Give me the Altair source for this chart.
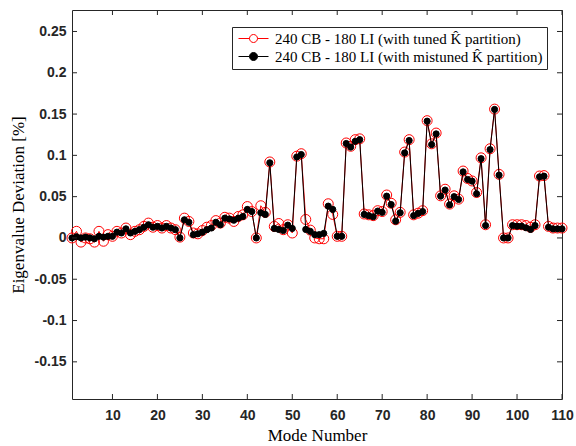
import altair as alt
import pandas as pd

# ---------------- data ----------------
modes = list(range(1, 111))

tuned = [
    0.0, 0.008, -0.005, 0.0, -0.001, -0.005, 0.008, -0.004, 0.004, 0.002,
    0.008, 0.006, 0.012, 0.004, 0.008, 0.010, 0.014, 0.018, 0.013, 0.015,
    0.012, 0.015, 0.012, 0.010, 0.001, 0.024, 0.020, 0.006, 0.005, 0.009,
    0.013, 0.015, 0.021, 0.018, 0.025, 0.024, 0.020, 0.026, 0.028, 0.038,
    0.032, 0.0, 0.039, 0.031, 0.092, 0.014, 0.0175, 0.010, 0.016, 0.006,
    0.099, 0.102, 0.0224, 0.0095, 0.0, -0.001, -0.001, 0.0414, 0.0285, 0.002,
    0.002, 0.115, 0.111, 0.119, 0.120, 0.029, 0.028, 0.027, 0.033, 0.032,
    0.052, 0.042, 0.022, 0.031, 0.104, 0.119, 0.028, 0.030, 0.033, 0.142,
    0.114, 0.127, 0.051, 0.059, 0.041, 0.051, 0.047, 0.081, 0.072, 0.069,
    0.055, 0.097, 0.016, 0.108, 0.156, 0.077, 0.0, 0.0, 0.016, 0.016,
    0.016, 0.015, 0.013, 0.016, 0.075, 0.0755, 0.014, 0.012, 0.012, 0.012,
]

mistuned = [
    0.0, 0.0015, 0.0, 0.001, 0.0, -0.001, 0.002, 0.001, 0.002, 0.002,
    0.007, 0.006, 0.011, 0.006, 0.008, 0.010, 0.013, 0.016, 0.013, 0.014,
    0.012, 0.014, 0.012, 0.010, 0.0, 0.022, 0.019, 0.004, 0.005, 0.007,
    0.010, 0.012, 0.019, 0.016, 0.024, 0.023, 0.0215, 0.024, 0.026, 0.0345,
    0.032, 0.0, 0.0305, 0.0285, 0.091, 0.0115, 0.0103, 0.009, 0.0155, 0.0115,
    0.098, 0.101, 0.0103, 0.008, 0.004, 0.004, 0.0055, 0.0385, 0.0345, 0.002,
    0.002, 0.1144, 0.110, 0.117, 0.119, 0.0285, 0.027, 0.0257, 0.0325, 0.031,
    0.0506, 0.0405, 0.0203, 0.0305, 0.103, 0.118, 0.027, 0.0297, 0.032, 0.1414,
    0.113, 0.126, 0.0506, 0.058, 0.040, 0.050, 0.0466, 0.080, 0.0708, 0.0688,
    0.0535, 0.096, 0.015, 0.107, 0.1556, 0.076, 0.0, 0.0, 0.015, 0.0143,
    0.0143, 0.0123, 0.0103, 0.015, 0.074, 0.0748, 0.013, 0.011, 0.011, 0.011,
]

series_names = [
    "240 CB - 180 LI (with tuned K\u0302 partition)",
    "240 CB - 180 LI (with mistuned K\u0302 partition)",
]
x_ticks = [10, 20, 30, 40, 50, 60, 70, 80, 90, 100, 110]
y_ticks = [-0.15, -0.1, -0.05, 0, 0.05, 0.1, 0.15, 0.2, 0.25]

df = pd.DataFrame({
    "mode": modes + modes,
    "value": tuned + mistuned,
    "series": [series_names[0]] * len(modes) + [series_names[1]] * len(modes),
})
xt = pd.DataFrame({"t": x_ticks})
yt = pd.DataFrame({"t": y_ticks})

# ---------------- layout ----------------
W, H = 490, 389
AX = "#262626"
xs = alt.Scale(domain=[1, 110], nice=False, zero=False)
ys = alt.Scale(domain=[-0.195, 0.276], nice=False, zero=False)

stroke_scale = alt.Scale(domain=series_names, range=["#ff0000", "#000000"])
fill_scale = alt.Scale(domain=series_names, range=["transparent", "#000000"])

SYMBOL = "M-3,0L-0.8,0M0.8,0L3,0M0.8,0A0.8,0.8,0,1,1,-0.8,0A0.8,0.8,0,1,1,0.8,0Z"
legend = alt.Legend(
    title=None, orient="none", legendX=160, legendY=17,
    symbolType=SYMBOL, symbolSize=100, symbolStrokeWidth=1,
    symbolOffset=10, labelOffset=14,
    labelFont="Liberation Serif", labelFontSize=15, labelColor="#000000",
    labelLimit=500, padding=4, rowPadding=2,
    strokeColor=AX, fillColor="white", cornerRadius=0,
)

x_axis = alt.Axis(
    values=x_ticks, title="Mode Number", grid=False, ticks=False, tickSize=0,
    domain=False, labelFlush=False,
    labelFont="Liberation Sans", labelFontSize=14, labelFontWeight="bold",
    labelColor=AX, labelPadding=9,
    titleFont="Liberation Serif", titleFontSize=17, titleFontWeight="normal",
    titleColor="#000000", titlePadding=5,
)
y_axis = alt.Axis(
    values=y_ticks, title="Eigenvalue Deviation [%]", grid=False, ticks=False,
    tickSize=0, domain=False, labelFlush=False,
    labelExpr="'' + datum.value",
    labelFont="Liberation Sans", labelFontSize=14, labelFontWeight="bold",
    labelColor=AX, labelPadding=6,
    titleFont="Liberation Serif", titleFontSize=17, titleFontWeight="normal",
    titleColor="#000000", titlePadding=7,
)

base = alt.Chart(df)
X = alt.X("mode:Q", scale=xs, axis=x_axis)
Y = alt.Y("value:Q", scale=ys, axis=y_axis)

red_line = base.transform_filter(alt.datum.series == series_names[0]).mark_line(
    strokeWidth=1
).encode(x=X, y=Y, stroke=alt.Stroke("series:N", scale=stroke_scale, legend=legend))

red_pts = base.transform_filter(alt.datum.series == series_names[0]).mark_point(
    shape="circle", size=100, strokeWidth=1, opacity=1
).encode(
    x=X, y=Y,
    stroke=alt.Stroke("series:N", scale=stroke_scale, legend=legend),
    fill=alt.Fill("series:N", scale=fill_scale, legend=legend),
)

black_line = base.transform_filter(alt.datum.series == series_names[1]).mark_line(
    strokeWidth=1
).encode(x=X, y=Y, stroke=alt.Stroke("series:N", scale=stroke_scale, legend=legend))

black_pts = base.transform_filter(alt.datum.series == series_names[1]).mark_point(
    shape="circle", size=38, strokeWidth=1, opacity=1
).encode(
    x=X, y=Y,
    stroke=alt.Stroke("series:N", scale=stroke_scale, legend=legend),
    fill=alt.Fill("series:N", scale=fill_scale, legend=legend),
)

tick_style = dict(color=AX, strokeWidth=1)
TX = alt.X("t:Q", scale=xs, axis=x_axis)
TY = alt.Y("t:Q", scale=ys, axis=y_axis)
tick_bottom = alt.Chart(xt).mark_rule(**tick_style).encode(
    x=TX, y=alt.value(H), y2=alt.value(H - 5))
tick_top = alt.Chart(xt).mark_rule(**tick_style).encode(
    x=TX, y=alt.value(0), y2=alt.value(5))
tick_left = alt.Chart(yt).mark_rule(**tick_style).encode(
    y=TY, x=alt.value(0), x2=alt.value(5))
tick_right = alt.Chart(yt).mark_rule(**tick_style).encode(
    y=TY, x=alt.value(W), x2=alt.value(W - 5))

chart = alt.layer(
    red_line, red_pts, black_line, black_pts,
    tick_bottom, tick_top, tick_left, tick_right,
).properties(
    width=W, height=H,
    padding={"left": 72, "top": 10, "right": 14, "bottom": 47},
    autosize=alt.AutoSizeParams(type="none"),
    background="white",
).configure_view(stroke=AX, strokeWidth=1)

chart.save("out.html", embed_options={"renderer": "svg", "actions": False})
